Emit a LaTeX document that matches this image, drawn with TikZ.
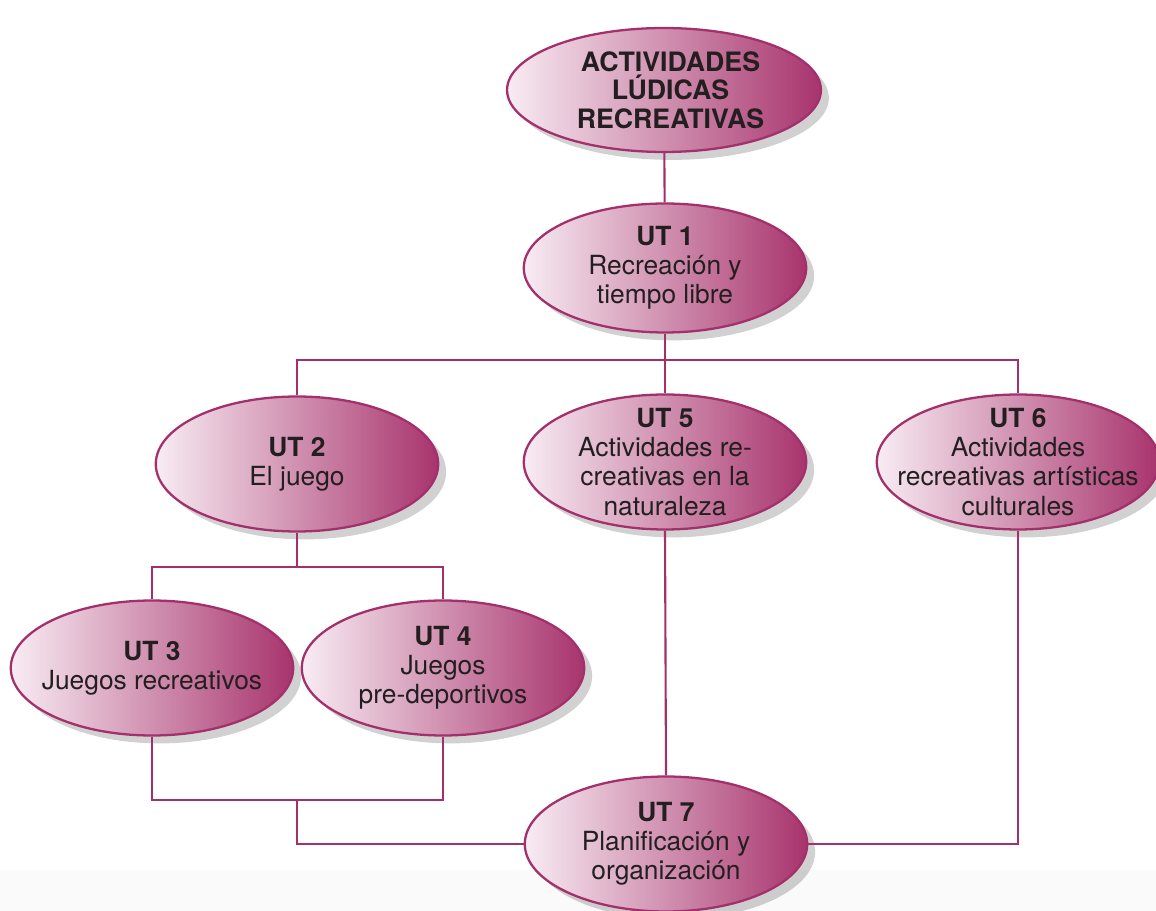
\documentclass[tikz,border=0pt]{standalone}
\usepackage{fontspec}
\setmainfont{TeX Gyre Heros}
\usetikzlibrary{shapes.geometric,shadows}
\definecolor{ludBorder}{HTML}{A3306B}
\definecolor{ludLight}{HTML}{F8ECF3}
\definecolor{ludDark}{HTML}{A8346D}
\definecolor{ludText}{HTML}{231F20}
\begin{document}
\begin{tikzpicture}[x=0.02cm, y=-0.02cm,
    unit/.style={ellipse, draw=ludBorder, line width=1.3pt,
      left color=ludLight, right color=ludDark,
      minimum width=5.65cm, minimum height=2.7cm, inner sep=0pt,
      drop shadow={shadow xshift=4.5pt, shadow yshift=-4.5pt, opacity=.18, fill=black}},
    unittext/.style={align=center, text=ludText, inner sep=0pt,
      font=\fontsize{15}{16.6}\selectfont},
    link/.style={draw=ludBorder, line width=1.2pt}]
  \useasboundingbox (0,0) rectangle (1156,911);
  \fill[black!2] (0,870) rectangle (1156,911);
  % units
  \node[unit, minimum width=6.28cm, minimum height=2.48cm,
    label={[unittext, xshift=0.13cm, font=\fontsize{15.2}{16.2}\selectfont\bfseries]center:{ACTIVIDADES\\LÚDICAS\\RECREATIVAS}}] (top) at (664,90) {};
  \node[unit, minimum height=2.58cm,
    label={[unittext]center:{\textbf{UT 1}\\Recreación y\\tiempo libre}}] (ut1) at (665,268) {};
  \node[unit,
    label={[unittext]center:{\textbf{UT 2}\\El juego}}] (ut2) at (297,464) {};
  \node[unit,
    label={[unittext]center:{\textbf{UT 5}\\Actividades re-\\creativas en la\\naturaleza}}] (ut5) at (665,462) {};
  \node[unit,
    label={[unittext]center:{\textbf{UT 6}\\Actividades\\recreativas artísticas\\culturales}}] (ut6) at (1018,462) {};
  \node[unit,
    label={[unittext]center:{\textbf{UT 3}\\Juegos recreativos}}] (ut3) at (152,668) {};
  \node[unit,
    label={[unittext]center:{\textbf{UT 4}\\Juegos\\pre-deportivos}}] (ut4) at (443,668) {};
  \node[unit,
    label={[unittext]center:{\textbf{UT 7}\\Planificación y\\organización}}] (ut7) at (666,844) {};
  % connectors
  \coordinate (split1) at (665,360);
  \coordinate (split2) at (297,567);
  \coordinate (join) at (297,800);
  \draw[link] (top) -- (ut1);
  \draw[link] (ut1.south) -- (split1);
  \draw[link] (ut2.north) |- (split1) -| (ut6.north);
  \draw[link] (split1) -- (ut5.north);
  \draw[link] (ut2.south) -- (split2);
  \draw[link] (ut3.north) |- (split2) -| (ut4.north);
  \draw[link] (ut3.south) |- (join) -| (ut4.south);
  \draw[link] (join) |- (ut7.west);
  \draw[link] (ut5.south) -- (ut7.north);
  \draw[link] (ut6.south) |- (ut7.east);
\end{tikzpicture}
\end{document}
